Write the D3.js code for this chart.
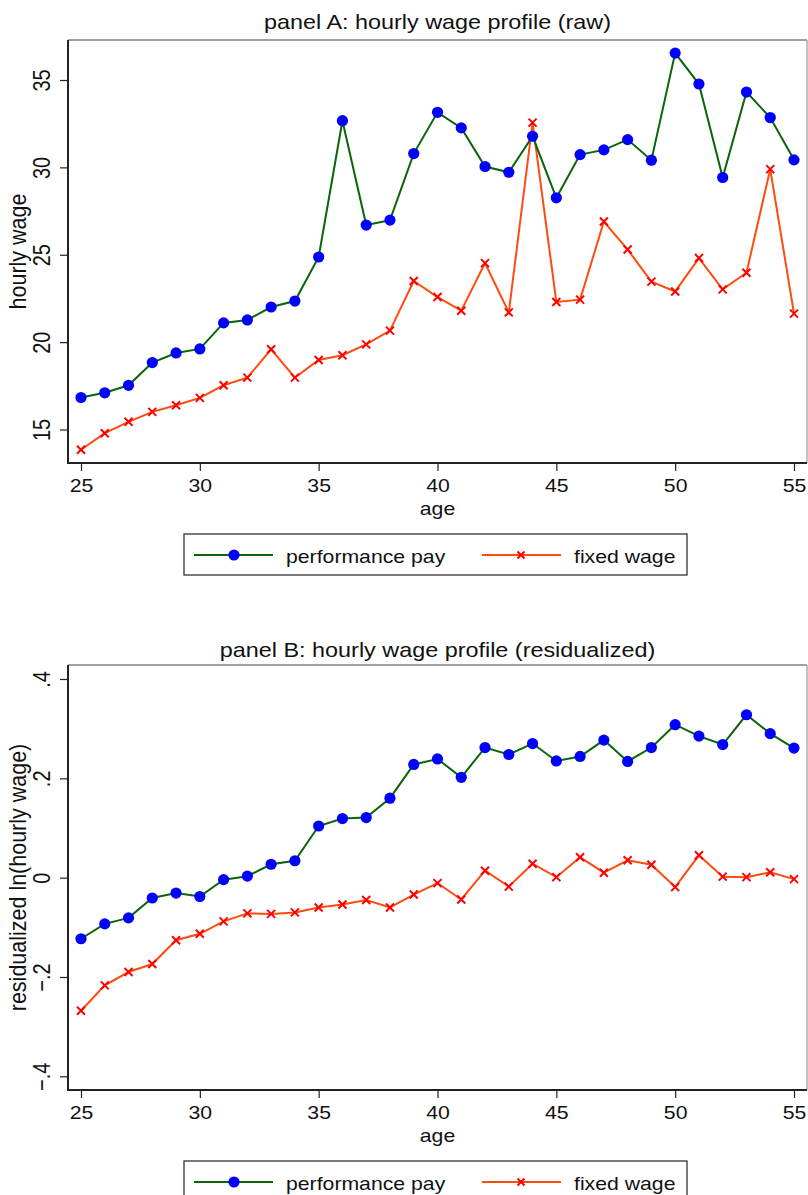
<!DOCTYPE html>
<html>
<head>
<meta charset="utf-8">
<script src="https://cdn.jsdelivr.net/npm/d3@7"></script>
<style>
  body { margin: 0; background: #fff; }
  svg { display: block; }
  text { font-family: "Liberation Sans", Arial, sans-serif; fill: #111; }
</style>
</head>
<body>
<div id="canvas"></div>
<script>
// ages on the x axis
var ages = [25, 26, 27, 28, 29, 30, 31, 32, 33, 34, 35, 36, 37, 38, 39, 40,
            41, 42, 43, 44, 45, 46, 47, 48, 49, 50, 51, 52, 53, 54, 55];
var ageTicks = [25, 30, 35, 40, 45, 50, 55];

// panel A: raw hourly wage
var rawPerf = [16.83, 17.1, 17.53, 18.83, 19.38, 19.61, 21.1, 21.27, 22.01, 22.35, 24.87,
               32.67, 26.7, 26.98, 30.79, 33.15, 32.26, 30.05, 29.72, 31.78, 28.26,
               30.73, 31.0, 31.59, 30.41, 36.54, 34.77, 29.42, 34.31, 32.85, 30.43];
var rawFixed = [13.84, 14.79, 15.44, 16.01, 16.39, 16.81, 17.53, 17.97, 19.59, 17.97, 18.98,
                19.25, 19.87, 20.66, 23.5, 22.58, 21.8, 24.52, 21.7, 32.56, 22.3,
                22.43, 26.9, 25.3, 23.46, 22.9, 24.81, 23.02, 23.97, 29.9, 21.63];
var rawTicks = [15, 20, 25, 30, 35];

// panel B: residualized ln(hourly wage)
var resPerf = [-0.123, -0.093, -0.081, -0.041, -0.031, -0.038, -0.004, 0.003, 0.027, 0.034, 0.104,
               0.119, 0.121, 0.160, 0.228, 0.239, 0.202, 0.262, 0.248, 0.270, 0.235,
               0.244, 0.277, 0.234, 0.262, 0.308, 0.285, 0.268, 0.328, 0.290, 0.261];
var resFixed = [-0.268, -0.217, -0.190, -0.174, -0.126, -0.113, -0.088, -0.072, -0.073, -0.070, -0.060,
                -0.054, -0.045, -0.060, -0.034, -0.011, -0.044, 0.014, -0.018, 0.028, 0.001,
                0.041, 0.010, 0.035, 0.026, -0.019, 0.045, 0.002, 0.001, 0.011, -0.003];
var resTicks = [-0.4, -0.2, 0, 0.2, 0.4];

var seriesNames = ['performance pay', 'fixed wage'];

var green = '#0a640a';
var blue = '#0000ff';
var orange = '#ff4a10';
var red = '#ff0000';

var canvas = d3.select('#canvas').append('svg')
    .attr('width', 808)
    .attr('height', 1195);

canvas.append('rect').attr('width', 808).attr('height', 1195).attr('fill', '#fff');

// the picture is stretched sideways, so text gets a horizontal scale
function stretched(x, y, sx, rot) {
    return 'translate(' + x + ',' + y + ') scale(' + sx + ',1)' + (rot ? ' rotate(-90)' : '');
}

function fmtRes(d) {
    if (d === 0) return '0';
    var s = d3.format('.1f')(d);
    return s.replace('0.', '.');
}

function xMark(g, x, y, size) {
    g.append('path')
        .attr('d', 'M' + (x - size) + ',' + (y - size) + 'L' + (x + size) + ',' + (y + size) +
                   'M' + (x - size) + ',' + (y + size) + 'L' + (x + size) + ',' + (y - size))
        .attr('stroke', red)
        .attr('stroke-width', 2)
        .attr('fill', 'none');
}

function drawPanel(cfg) {
    var left = 68, right = 807;
    var g = canvas.append('g');

    var x = d3.scaleLinear().domain([25, 55]).range([81, 794]);
    var y = d3.scaleLinear().domain(cfg.domain).range(cfg.range);

    // plot region outline (top and right)
    g.append('line').attr('x1', left).attr('x2', right).attr('y1', cfg.top).attr('y2', cfg.top)
        .attr('stroke', '#444').attr('stroke-width', 1.2);
    g.append('line').attr('x1', right).attr('x2', right).attr('y1', cfg.top).attr('y2', cfg.bottom)
        .attr('stroke', '#999').attr('stroke-width', 1.2);

    // axes
    var xAxis = g.append('g')
        .attr('transform', 'translate(0,' + cfg.bottom + ')')
        .call(d3.axisBottom(x).tickValues(ageTicks).tickSize(8).tickFormat(d3.format('d')));
    xAxis.select('.domain').remove();
    xAxis.selectAll('.tick line').attr('stroke', '#222').attr('stroke-width', 1.2);
    xAxis.selectAll('.tick text')
        .attr('y', null).attr('dy', null)
        .attr('transform', stretched(0, 29, 1.18, false))
        .attr('font-size', 18)
        .attr('fill', '#111');

    var yAxis = g.append('g')
        .attr('transform', 'translate(' + left + ',0)')
        .call(d3.axisLeft(y).tickValues(cfg.ticks).tickSize(8).tickFormat(cfg.fmt));
    yAxis.select('.domain').remove();
    yAxis.selectAll('.tick line').attr('stroke', '#222').attr('stroke-width', 1.2);
    yAxis.selectAll('.tick text')
        .attr('x', null).attr('dy', null)
        .attr('text-anchor', 'middle')
        .attr('transform', stretched(-18, 0, 1.2, true))
        .attr('font-size', 20)
        .attr('fill', '#111');

    g.append('line').attr('x1', left).attr('x2', left).attr('y1', cfg.top).attr('y2', cfg.bottom + 1)
        .attr('stroke', '#222').attr('stroke-width', 2);
    g.append('line').attr('x1', left - 1).attr('x2', right).attr('y1', cfg.bottom).attr('y2', cfg.bottom)
        .attr('stroke', '#222').attr('stroke-width', 2);

    // titles
    g.append('text')
        .attr('transform', stretched((left + right) / 2, cfg.titleY, 1.17, false))
        .attr('text-anchor', 'middle')
        .attr('font-size', 20)
        .text(cfg.title);

    g.append('text')
        .attr('transform', stretched((left + right) / 2, cfg.bottom + 52, 1.18, false))
        .attr('text-anchor', 'middle')
        .attr('font-size', 18)
        .text('age');

    g.append('text')
        .attr('transform', stretched(26, (cfg.top + cfg.bottom) / 2, 1.08, true))
        .attr('text-anchor', 'middle')
        .attr('font-size', 21.5)
        .text(cfg.yTitle);

    // series
    var line = d3.line()
        .x(function(d, i) { return x(ages[i]); })
        .y(function(d) { return y(d); });

    g.append('path').datum(cfg.fixed)
        .attr('d', line).attr('fill', 'none')
        .attr('stroke', orange).attr('stroke-width', 2);

    cfg.fixed.forEach(function(d, i) {
        xMark(g, x(ages[i]), y(d), 4);
    });

    g.append('path').datum(cfg.perf)
        .attr('d', line).attr('fill', 'none')
        .attr('stroke', green).attr('stroke-width', 2);

    g.selectAll('.dot')
        .data(cfg.perf)
        .enter()
        .append('circle')
        .attr('cx', function(d, i) { return x(ages[i]); })
        .attr('cy', function(d) { return y(d); })
        .attr('r', 5.6)
        .attr('fill', blue);

    // legend
    var ly = cfg.legendTop;
    var lg = g.append('g');
    lg.append('rect')
        .attr('x', 184).attr('y', ly).attr('width', 503).attr('height', 41)
        .attr('fill', '#fff').attr('stroke', '#333').attr('stroke-width', 1.3);
    var cy = ly + 21;
    lg.append('line').attr('x1', 194).attr('x2', 273).attr('y1', cy).attr('y2', cy)
        .attr('stroke', green).attr('stroke-width', 2);
    lg.append('circle').attr('cx', 234).attr('cy', cy).attr('r', 5.6).attr('fill', blue);
    lg.append('text')
        .attr('transform', stretched(286, cy + 8, 1.18, false))
        .attr('font-size', 18)
        .text(seriesNames[0]);
    lg.append('line').attr('x1', 482).attr('x2', 561).attr('y1', cy).attr('y2', cy)
        .attr('stroke', orange).attr('stroke-width', 2);
    xMark(lg, 521, cy, 3.5);
    lg.append('text')
        .attr('transform', stretched(574, cy + 8, 1.18, false))
        .attr('font-size', 18)
        .text(seriesNames[1]);
}

drawPanel({
    title: 'panel A: hourly wage profile (raw)',
    yTitle: 'hourly wage',
    titleY: 29,
    top: 40,
    bottom: 463,
    domain: [15, 35],
    range: [429.5, 80],
    ticks: rawTicks,
    fmt: d3.format('d'),
    perf: rawPerf,
    fixed: rawFixed,
    legendTop: 534
});

drawPanel({
    title: 'panel B: hourly wage profile (residualized)',
    yTitle: 'residualized ln(hourly wage)',
    titleY: 657,
    top: 665,
    bottom: 1090,
    domain: [-0.4, 0.4],
    range: [1076.3, 679],
    ticks: resTicks,
    fmt: fmtRes,
    perf: resPerf,
    fixed: resFixed,
    legendTop: 1161
});
</script>
</body>
</html>
